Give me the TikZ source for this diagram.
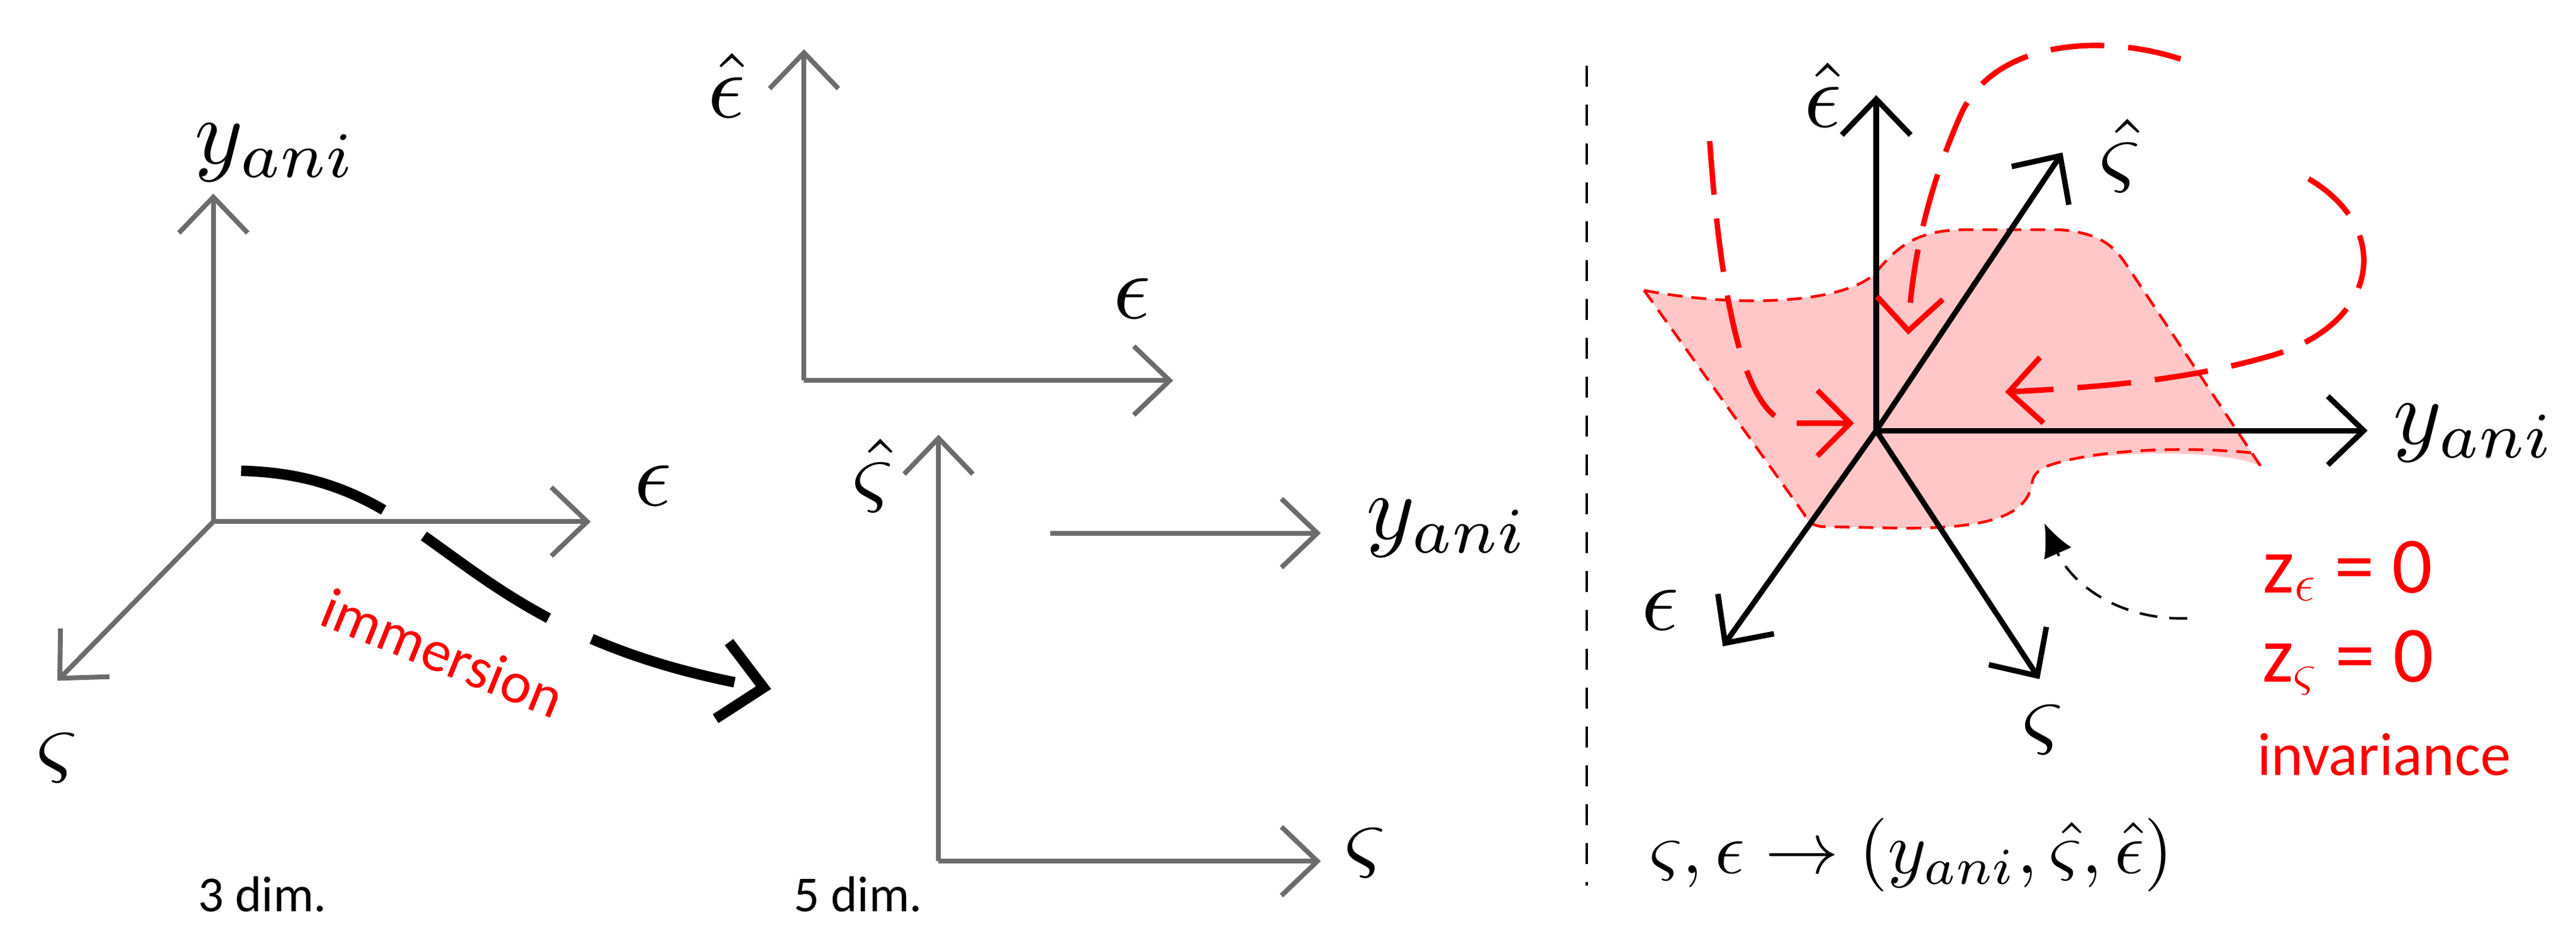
\documentclass[tikz,border=0pt]{standalone}
\usepackage{fontspec}
\newfontfamily\carl{Carlito}
\usetikzlibrary{arrows.meta}
\begin{document}
\begin{tikzpicture}[x=0.02743cm,y=-0.02743cm,
  gax/.style={draw=gray!85!black,line width=2.3pt,-{Straight Barb[length=0.6cm,width=1.15cm,line width=2.3pt]}},
  bax/.style={draw=black,line width=2.6pt,-{Straight Barb[length=0.6cm,width=1.15cm,line width=2.6pt]}},
  lab/.style={scale=4.4},
  dimlab/.style={font=\carl\fontsize{24}{28}\selectfont},
  rdash/.style={draw=red,line width=2.6pt,dash pattern=on 0.9cm off 0.4cm,-{Straight Barb[length=0.55cm,width=1.1cm,line width=2.6pt]}}]
\useasboundingbox (0,0) rectangle (1570,572.7);
% left panel
\coordinate (o1) at (130,318);
\coordinate (l1u) at (130,118);
\coordinate (l1e) at (360,318);
\coordinate (l1s) at (35,415);
\draw[gax] (o1) -- (l1u);
\draw[gax] (o1) -- (l1e);
\draw[gax] (o1) -- (l1s);
\node[lab] (ly) at (168,93) {$y_{ani}$};
\node[lab] (le) at (398,296) {$\epsilon$};
\node[lab] (ls) at (35,462) {$\varsigma$};
\coordinate (im0) at (147,287);
\coordinate (im1) at (470,420);
\draw[line width=5pt,dash pattern=on 2.5cm off 0.8cm,-{Straight Barb[length=0.7cm,width=1.3cm,line width=5pt]}]
  (im0) .. controls (270,290) and (270,385) .. (im1);
\node[red,rotate=-22,font=\carl\fontsize{28}{30}\selectfont] (imm) at (270,398) {immersion};
\node[dimlab] (d3) at (160,545) {3 dim.};
% middle
\coordinate (o2) at (490,232);
\coordinate (m2u) at (490,30);
\coordinate (m2r) at (715,232);
\draw[gax] (o2) -- (m2u);
\draw[gax] (o2) -- (m2r);
\node[lab] (me1) at (443,52) {$\hat\epsilon$};
\node[lab] (me2) at (690,182) {$\epsilon$};
\coordinate (o3) at (572,525);
\coordinate (m3u) at (572,265);
\coordinate (m3r) at (805,525);
\draw[gax] (o3) -- (m3u);
\draw[gax] (o3) -- (m3r);
\node[lab] (ms1) at (532,290) {$\hat\varsigma$};
\node[lab] (ms2) at (832,520) {$\varsigma$};
\coordinate (y0) at (640,325);
\coordinate (y1) at (805,325);
\draw[gax] (y0) -- (y1);
\node[lab] (my) at (882,322) {$y_{ani}$};
\node[dimlab] (d5) at (523,545) {5 dim.};
% separator
\coordinate (sep0) at (967,40);
\coordinate (sep1) at (967,540);
\draw[line width=1pt,dash pattern=on 0.35cm off 0.3cm] (sep0) -- (sep1);
% right panel surface
\fill[red!22] (1002,177) .. controls (1060,188) and (1125,185) .. (1143.5,166)
  .. controls (1160,145) and (1175,140) .. (1200,140) -- (1255,140)
  .. controls (1280,142) and (1288,150) .. (1295,160) -- (1379,286)
  .. controls (1372,276) and (1300,272) .. (1251,283)
  .. controls (1235,288) and (1240,296) .. (1237,300)
  .. controls (1230,318) and (1200,322) .. (1160,322) -- (1110,321)
  .. controls (1103,320) and (1100,316) .. (1100,314) -- cycle;
\draw[red,line width=1.3pt,dash pattern=on 0.25cm off 0.15cm] (1002,177) .. controls (1060,188) and (1125,185) .. (1143.5,166)
  .. controls (1160,145) and (1175,140) .. (1200,140) -- (1255,140)
  .. controls (1280,142) and (1288,150) .. (1295,160) -- (1379,286);
\draw[red,line width=1.3pt,dash pattern=on 0.25cm off 0.15cm] (1372,276)
  .. controls (1330,272) and (1280,274) .. (1251,283)
  .. controls (1235,288) and (1240,296) .. (1237,300)
  .. controls (1230,318) and (1200,322) .. (1160,322) -- (1110,321)
  .. controls (1103,320) and (1100,316) .. (1100,314) -- (1002,177);
% right axes
\coordinate (O) at (1143.5,262.5);
\coordinate (re) at (1143.5,58);
\coordinate (rs) at (1257,93);
\coordinate (ry) at (1443,262.5);
\coordinate (rE) at (1050,394);
\coordinate (rS) at (1243,414);
\draw[bax] (O) -- (re);
\draw[bax] (O) -- (rs);
\draw[bax] (O) -- (ry);
\draw[bax] (O) -- (rE);
\draw[bax] (O) -- (rS);
\node[lab] (Le) at (1111,58) {$\hat\epsilon$};
\node[lab] (Ls) at (1292,95) {$\hat\varsigma$};
\node[lab] (Ly) at (1508,264) {$y_{ani}$};
\node[lab] (LE) at (1012,372) {$\epsilon$};
\node[lab] (LS) at (1245,445) {$\varsigma$};
% red dashed curves
\coordinate (a0) at (1042,86);
\coordinate (a1) at (1130,258);
\draw[rdash] (a0) .. controls (1048,170) and (1060,250) .. (1090,258) -- (a1);
\coordinate (b0) at (1329,36);
\coordinate (b1) at (1163,204);
\draw[rdash] (b0) .. controls (1280,20) and (1215,25) .. (1195,70) .. controls (1175,115) and (1165,160) .. (b1);
\coordinate (c0) at (1407,109);
\coordinate (c1) at (1222,239);
\draw[rdash] (c0) .. controls (1460,140) and (1450,200) .. (1380,218) .. controls (1330,232) and (1280,236) .. (c1);
% annotation
\coordinate (n0) at (1333,377);
\coordinate (n1) at (1246,319);
\draw[line width=1.2pt,dash pattern=on 0.3cm off 0.2cm,-{Latex[length=0.55cm,width=0.5cm]}] (n0) .. controls (1290,378) and (1262,355) .. (n1);
\node[red,font=\carl\fontsize{38}{42}\selectfont] (z1) at (1431,348) {z$_\epsilon$ = 0};
\node[red,font=\carl\fontsize{38}{42}\selectfont] (z2) at (1431,404) {z$_\varsigma$ = 0};
\node[red,font=\carl\fontsize{29}{32}\selectfont] (inv) at (1453,460) {invariance};
\node[scale=3.5] (f) at (1165,521) {$\varsigma,\epsilon\rightarrow(y_{ani},\hat\varsigma,\hat\epsilon)$};
\end{tikzpicture}
\end{document}
